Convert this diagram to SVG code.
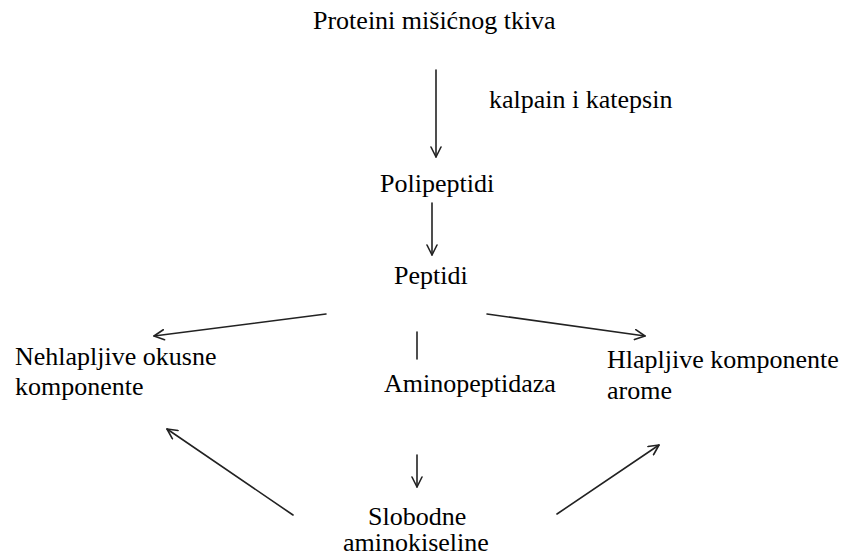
<svg xmlns="http://www.w3.org/2000/svg" width="843" height="555" viewBox="0 0 843 555">
<style>
text{font-family:"Liberation Serif","Times New Roman",serif;font-size:26px;fill:#000}
.c{stroke:#222;stroke-width:1.6;fill:none;stroke-linecap:round}
</style>
<defs>
<marker id="ah" viewBox="0 0 12 12" refX="11" refY="6" markerWidth="12" markerHeight="12" markerUnits="userSpaceOnUse" orient="auto">
<path d="M1,1 L11,6 L1,11" fill="none" stroke="#222" stroke-width="1.6" stroke-linecap="round" stroke-linejoin="round"/>
</marker>
</defs>
<rect width="843" height="555" fill="#fff"/>
<g id="connectors">
<line class="c" x1="436" y1="70" x2="436" y2="157" marker-end="url(#ah)"/>
<line class="c" x1="432" y1="203" x2="432" y2="255" marker-end="url(#ah)"/>
<line class="c" x1="326" y1="314" x2="154" y2="336" marker-end="url(#ah)"/>
<line class="c" x1="487" y1="314" x2="645" y2="336" marker-end="url(#ah)"/>
<line class="c" x1="417" y1="332" x2="417" y2="359"/>
<line class="c" x1="417" y1="455" x2="417" y2="487" marker-end="url(#ah)"/>
<line class="c" x1="293" y1="515" x2="167" y2="429" marker-end="url(#ah)"/>
<line class="c" x1="557" y1="514" x2="659" y2="445" marker-end="url(#ah)"/>
</g>
<g id="n-proteini"><text x="313" y="29">Proteini mišićnog tkiva</text></g>
<g id="l-kalpain"><text x="489" y="108">kalpain i katepsin</text></g>
<g id="n-polipeptidi"><text x="380" y="192">Polipeptidi</text></g>
<g id="n-peptidi"><text x="394" y="284">Peptidi</text></g>
<g id="n-nehlapljive"><text x="15" y="365">Nehlapljive okusne</text><text x="15" y="395">komponente</text></g>
<g id="l-aminopeptidaza"><text x="384" y="392">Aminopeptidaza</text></g>
<g id="n-hlapljive"><text x="607" y="368">Hlapljive komponente</text><text x="607" y="399">arome</text></g>
<g id="n-slobodne"><text x="368" y="525">Slobodne</text><text x="343" y="551">aminokiseline</text></g>
</svg>
